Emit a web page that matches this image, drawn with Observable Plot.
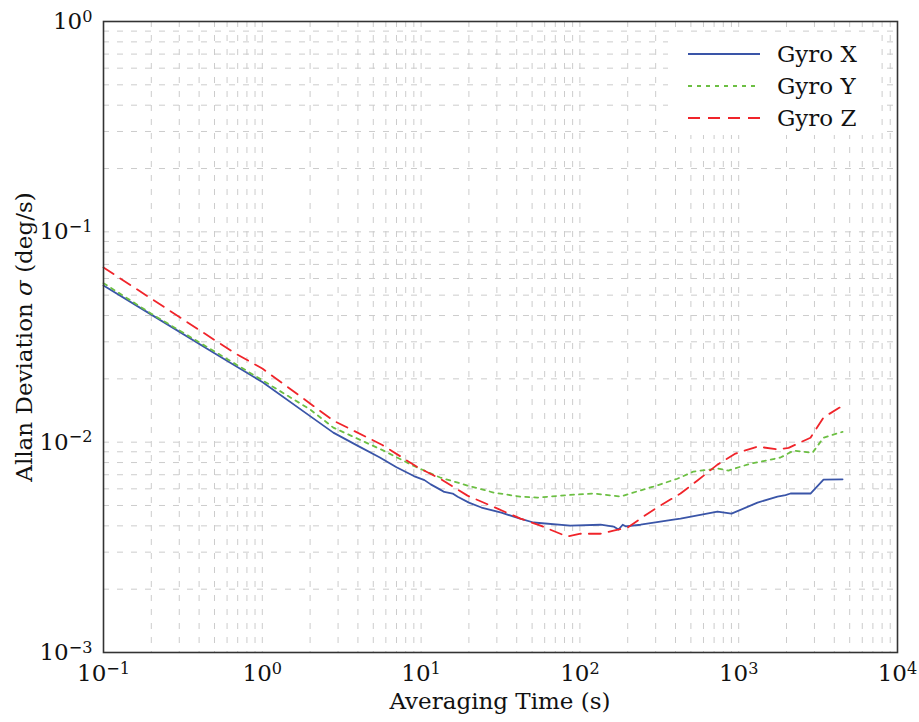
<!DOCTYPE html>
<html>
<head>
<meta charset="utf-8">
<script src="https://cdn.jsdelivr.net/npm/d3@7"></script>
<script src="https://cdn.jsdelivr.net/npm/@observablehq/plot@0.6"></script>
<style>
  html, body { margin: 0; padding: 0; background: #fff; }
  #chart { position: relative; width: 919px; height: 722px; }
  #chart svg, #chart svg text { font-family: "DejaVu Serif", "Liberation Serif", serif !important; }
</style>
</head>
<body>
<div id="chart"></div>
<script>
// ---- Data ----
const seriesNames = ["Gyro X", "Gyro Y", "Gyro Z"];
const seriesColors = ["#3a55a8", "#6cbf43", "#f0242a"];
const seriesDash = [null, "4,5", "12,8"];

const tauX = [0.1, 0.2, 0.5, 1, 2, 2.8, 4, 5.5, 7, 9, 10.5, 11.5, 13.2, 14, 15.8, 17, 20, 24, 32, 42, 51, 87, 135, 163, 175, 186, 194, 241, 388, 430, 735, 901, 1313, 1755, 1972, 2120, 2832, 3420, 4508];
const sigX = [0.0556, 0.0404, 0.0265, 0.0193, 0.0133, 0.0111, 0.0096, 0.00845, 0.0076, 0.0069, 0.0066, 0.0063, 0.00595, 0.0058, 0.0057, 0.0055, 0.00516, 0.00489, 0.00462, 0.00433, 0.00415, 0.00401, 0.00405, 0.00397, 0.00384, 0.00405, 0.00398, 0.00405, 0.00428, 0.00433, 0.00468, 0.00457, 0.00516, 0.00551, 0.0056, 0.0057, 0.0057, 0.00664, 0.00666];

const tauY = [0.1, 0.2, 0.5, 1, 2, 2.8, 5.8, 9, 13.2, 19.6, 28.6, 42, 54, 83, 122, 180, 241, 290, 411, 519, 735, 862, 1187, 1585, 1832, 2213, 2916, 3420, 4508];
const sigY = [0.057, 0.0408, 0.027, 0.0197, 0.0143, 0.01173, 0.00912, 0.0077, 0.00679, 0.00622, 0.00576, 0.00551, 0.00545, 0.0056, 0.0057, 0.00551, 0.0059, 0.00615, 0.0067, 0.00725, 0.00749, 0.00733, 0.00791, 0.00826, 0.00845, 0.00912, 0.0089, 0.0105, 0.0112];

const tauZ = [0.1, 0.66, 1, 2.8, 5.7, 9.5, 13.2, 19.6, 30.3, 42.3, 56.5, 83, 101, 135, 163, 200, 267, 322, 430, 550, 735, 955, 1313, 1755, 2061, 2832, 3420, 4508];
const sigZ = [0.0677, 0.0267, 0.0224, 0.01267, 0.0097, 0.0076, 0.0067, 0.00557, 0.00483, 0.00433, 0.00401, 0.00356, 0.00367, 0.00367, 0.0038, 0.00393, 0.00457, 0.005, 0.0057, 0.00657, 0.00782, 0.00883, 0.00953, 0.00923, 0.0094, 0.0105, 0.0131, 0.0149];

const xMajor = [0.1, 1, 10, 100, 1000, 10000];
const yMajor = [0.001, 0.01, 0.1, 1];
const xLabel = "Averaging Time (s)";
const yLabelParts = ["Allan Deviation ", "σ", " (deg/s)"];

// ---- Build tables ----
const taus = [tauX, tauY, tauZ];
const sigs = [sigX, sigY, sigZ];
const data = seriesNames.flatMap((name, i) =>
  taus[i].map((t, j) => ({series: name, tau: t, sigma: sigs[i][j]})));

function allTicks(majors) {
  const out = [];
  for (let k = 0; k < majors.length; k++) {
    out.push(majors[k]);
    if (k < majors.length - 1) for (let m = 2; m <= 9; m++) out.push(+(majors[k] * m).toPrecision(6));
  }
  return out;
}
const xGrid = allTicks(xMajor);
const yGrid = allTicks(yMajor);
const expOf = v => String(Math.round(Math.log10(v))).replace("-", "−");

const FONT = 23;
const gridStyle = {stroke: "#cccccc", strokeOpacity: 1, strokeWidth: 1, strokeDasharray: "6,8"};

const marks = [
  Plot.gridX(xGrid, gridStyle),
  Plot.gridY(yGrid, gridStyle),
  Plot.axisX(xMajor, {tickSize: 0, tickPadding: 12, tickFormat: expOf, fontSize: FONT, label: null}),
  Plot.axisY(yMajor, {tickSize: 0, tickPadding: 11, tickFormat: expOf, fontSize: FONT, label: null}),
];
seriesNames.forEach((name, i) => {
  marks.push(Plot.line(data.filter(d => d.series === name), {
    x: "tau", y: "sigma",
    stroke: seriesColors[i], strokeWidth: 1.8,
    strokeDasharray: seriesDash[i] || undefined,
    curve: "linear"
  }));
});
marks.push(Plot.frame({stroke: "#333", strokeWidth: 1.6}));

const chart = Plot.plot({
  width: 919,
  height: 722,
  marginTop: 21,
  marginBottom: 70,
  marginLeft: 103,
  marginRight: 22,
  style: {fontSize: FONT + "px", color: "#111", background: "#fff"},
  x: {type: "log", domain: [0.1, 10000]},
  y: {type: "log", domain: [0.001, 1]},
  marks
});
document.getElementById("chart").appendChild(chart);

// superscripted tick labels: 10^k
const svg = d3.select(chart);
svg.selectAll('g[aria-label="x-axis tick label"] text, g[aria-label="y-axis tick label"] text').each(function() {
  const t = d3.select(this);
  const e = t.text();
  t.text("");
  t.append("tspan").text("10");
  t.append("tspan").attr("dy", "-0.45em").attr("font-size", "0.7em").text(e);
});

// axis titles
svg.append("text")
  .attr("x", 500).attr("y", 709)
  .attr("text-anchor", "middle")
  .attr("font-size", FONT).attr("fill", "#111")
  .text(xLabel);
const yl = svg.append("text")
  .attr("transform", "translate(32,337) rotate(-90)")
  .attr("text-anchor", "middle")
  .attr("font-size", FONT).attr("fill", "#111");
yl.append("tspan").text(yLabelParts[0]);
yl.append("tspan").attr("font-style", "italic").text(yLabelParts[1]);
yl.append("tspan").text(yLabelParts[2]);

// legend (inside plot, top right)
const lg = svg.append("g").attr("aria-label", "legend").attr("text-anchor", "start");
lg.append("rect").attr("x", 668).attr("y", 33).attr("width", 212).attr("height", 102).attr("fill", "#fff");
seriesNames.forEach((name, i) => {
  const y = 54 + i * 32;
  lg.append("line").attr("x1", 688).attr("x2", 760).attr("y1", y).attr("y2", y)
    .attr("stroke", seriesColors[i]).attr("stroke-width", 1.8)
    .attr("stroke-dasharray", seriesDash[i]);
  lg.append("text").attr("x", 777).attr("y", y + 8).attr("text-anchor", "start")
    .attr("font-size", FONT).attr("fill", "#111").text(name);
});
</script>
</body>
</html>
